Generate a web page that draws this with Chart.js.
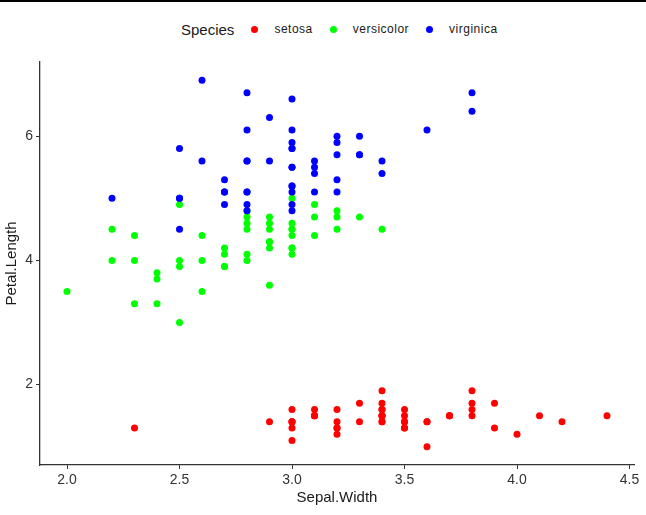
<!DOCTYPE html>
<html>
<head>
<meta charset="utf-8">
<script src="https://cdn.jsdelivr.net/npm/chart.js@4"></script>
<style>
html,body{margin:0;padding:0;background:#fff;}
#wrap{position:relative;width:646px;height:515px;border-top:2px solid #000;box-sizing:border-box;}
#legend{position:absolute;top:17px;left:181px;height:20px;display:flex;align-items:center;font-family:"Liberation Sans",Arial,sans-serif;color:#1a1a1a;white-space:nowrap;}
#legend .ttl{font-size:15px;margin-right:17px;}
#legend .item{font-size:12px;margin-right:17px;letter-spacing:0.5px;}
#legend .dot{display:inline-block;width:7px;height:7px;border-radius:50%;margin-right:16px;}
canvas{position:absolute;top:-2px;left:0;}
</style>
</head>
<body>
<div id="wrap">
<div id="legend"></div>
<canvas id="chart" width="646" height="515"></canvas>
</div>
<script>
// ===== iris: Sepal.Width vs Petal.Length =====
const SPECIES=['setosa','versicolor','virginica'];
const SPECIES_COLORS=['#FF0000','#00FF00','#0000FF'];
const SETOSA_SW=[3.5,3.0,3.2,3.1,3.6,3.9,3.4,3.4,2.9,3.1,3.7,3.4,3.0,3.0,4.0,4.4,3.9,3.5,3.8,3.8,3.4,3.7,3.6,3.3,3.4,3.0,3.4,3.5,3.4,3.2,3.1,3.4,4.1,4.2,3.1,3.2,3.5,3.6,3.0,3.4,3.5,2.3,3.2,3.5,3.8,3.0,3.8,3.2,3.7,3.3];
const SETOSA_PL=[1.4,1.4,1.3,1.5,1.4,1.7,1.4,1.5,1.4,1.5,1.5,1.6,1.4,1.1,1.2,1.5,1.3,1.4,1.7,1.5,1.7,1.5,1.0,1.7,1.9,1.6,1.6,1.5,1.4,1.6,1.6,1.5,1.5,1.4,1.5,1.2,1.3,1.4,1.3,1.5,1.3,1.3,1.3,1.6,1.9,1.4,1.6,1.4,1.5,1.4];
const VERSICOLOR_SW=[3.2,3.2,3.1,2.3,2.8,2.8,3.3,2.4,2.9,2.7,2.0,3.0,2.2,2.9,2.9,3.1,3.0,2.7,2.2,2.5,3.2,2.8,2.5,2.8,2.9,3.0,2.8,3.0,2.9,2.6,2.4,2.4,2.7,2.7,3.0,3.4,3.1,2.3,3.0,2.5,2.6,3.0,2.6,2.3,2.7,3.0,2.9,2.9,2.5,2.8];
const VERSICOLOR_PL=[4.7,4.5,4.9,4.0,4.6,4.5,4.7,3.3,4.6,3.9,3.5,4.2,4.0,4.7,3.6,4.4,4.5,4.1,4.5,3.9,4.8,4.0,4.9,4.7,4.3,4.4,4.8,5.0,4.5,3.5,3.8,3.7,3.9,5.1,4.5,4.5,4.7,4.4,4.1,4.0,4.4,4.6,4.0,3.3,4.2,4.2,4.2,4.3,3.0,4.1];
const VIRGINICA_SW=[3.3,2.7,3.0,2.9,3.0,3.0,2.5,2.9,2.5,3.6,3.2,2.7,3.0,2.5,2.8,3.2,3.0,3.8,2.6,2.2,3.2,2.8,2.8,2.7,3.3,3.2,2.8,3.0,2.8,3.0,2.8,3.8,2.8,2.8,2.6,3.0,3.4,3.1,3.0,3.1,3.1,3.1,2.7,3.2,3.3,3.0,2.5,3.0,3.4,3.0];
const VIRGINICA_PL=[6.0,5.1,5.9,5.6,5.8,6.6,4.5,6.3,5.8,6.1,5.1,5.3,5.5,5.0,5.1,5.3,5.5,6.7,6.9,5.0,5.7,4.9,6.7,4.9,5.7,6.0,4.8,4.9,5.6,5.8,6.1,6.4,5.6,5.1,5.6,6.1,5.6,5.5,4.8,5.4,5.6,5.1,5.1,5.9,5.7,5.2,5.0,5.2,5.4,5.1];
const X_TICKS=[2.0,2.5,3.0,3.5,4.0,4.5];
const Y_TICKS=[2,4,6];

const FONT='"Liberation Sans",Arial,sans-serif';
const AXIS_COL='#333333';
const SERIES=[[SETOSA_SW,SETOSA_PL],[VERSICOLOR_SW,VERSICOLOR_PL],[VIRGINICA_SW,VIRGINICA_PL]];

// legend (ggplot style, title on the left)
const lg=document.getElementById('legend');
lg.innerHTML='<span class="ttl">Species</span>'+SPECIES.map((s,i)=>`<span class="dot" style="background:${SPECIES_COLORS[i]}"></span><span class="item">${s}</span>`).join('');

const datasets=SPECIES.map((s,i)=>({
  label:s,
  data:SERIES[i][0].map((x,j)=>({x:x,y:SERIES[i][1][j]})),
  backgroundColor:SPECIES_COLORS[i],borderColor:SPECIES_COLORS[i],borderWidth:0,
  pointRadius:3.5,pointHoverRadius:3.5,
  order:SPECIES.length-i // later species drawn on top
}));

new Chart(document.getElementById('chart'),{
  type:'scatter',
  data:{datasets},
  options:{responsive:false,animation:false,
    layout:{padding:{top:62,right:12,left:0,bottom:0}},
    plugins:{legend:{display:false},tooltip:{enabled:false}},
    scales:{
      x:{type:'linear',min:1.88,max:4.52,
        afterBuildTicks:a=>{a.ticks=X_TICKS.map(v=>({value:v}));},
        afterFit:a=>{a.height=50;},
        grid:{drawOnChartArea:false,drawTicks:true,tickLength:4,color:AXIS_COL,lineWidth:1},
        border:{color:AXIS_COL,width:1.3},
        ticks:{color:'#333',font:{family:FONT,size:14},padding:3,callback:v=>Number(v).toFixed(1),maxRotation:0},
        title:{display:true,text:'Sepal.Width',color:'#1a1a1a',font:{family:FONT,size:15},padding:{top:0,bottom:8}}},
      y:{type:'linear',min:0.705,max:7.195,
        afterBuildTicks:a=>{a.ticks=Y_TICKS.map(v=>({value:v}));},
        afterFit:a=>{a.width=40;},
        grid:{drawOnChartArea:false,drawTicks:true,tickLength:4,color:AXIS_COL,lineWidth:1},
        border:{color:AXIS_COL,width:1.3},
        ticks:{color:'#333',font:{family:FONT,size:14},padding:3},
        title:{display:true,text:'Petal.Length',color:'#1a1a1a',font:{family:FONT,size:15},padding:{top:3,bottom:0}}}
    }
  }
});
</script>
</body>
</html>
